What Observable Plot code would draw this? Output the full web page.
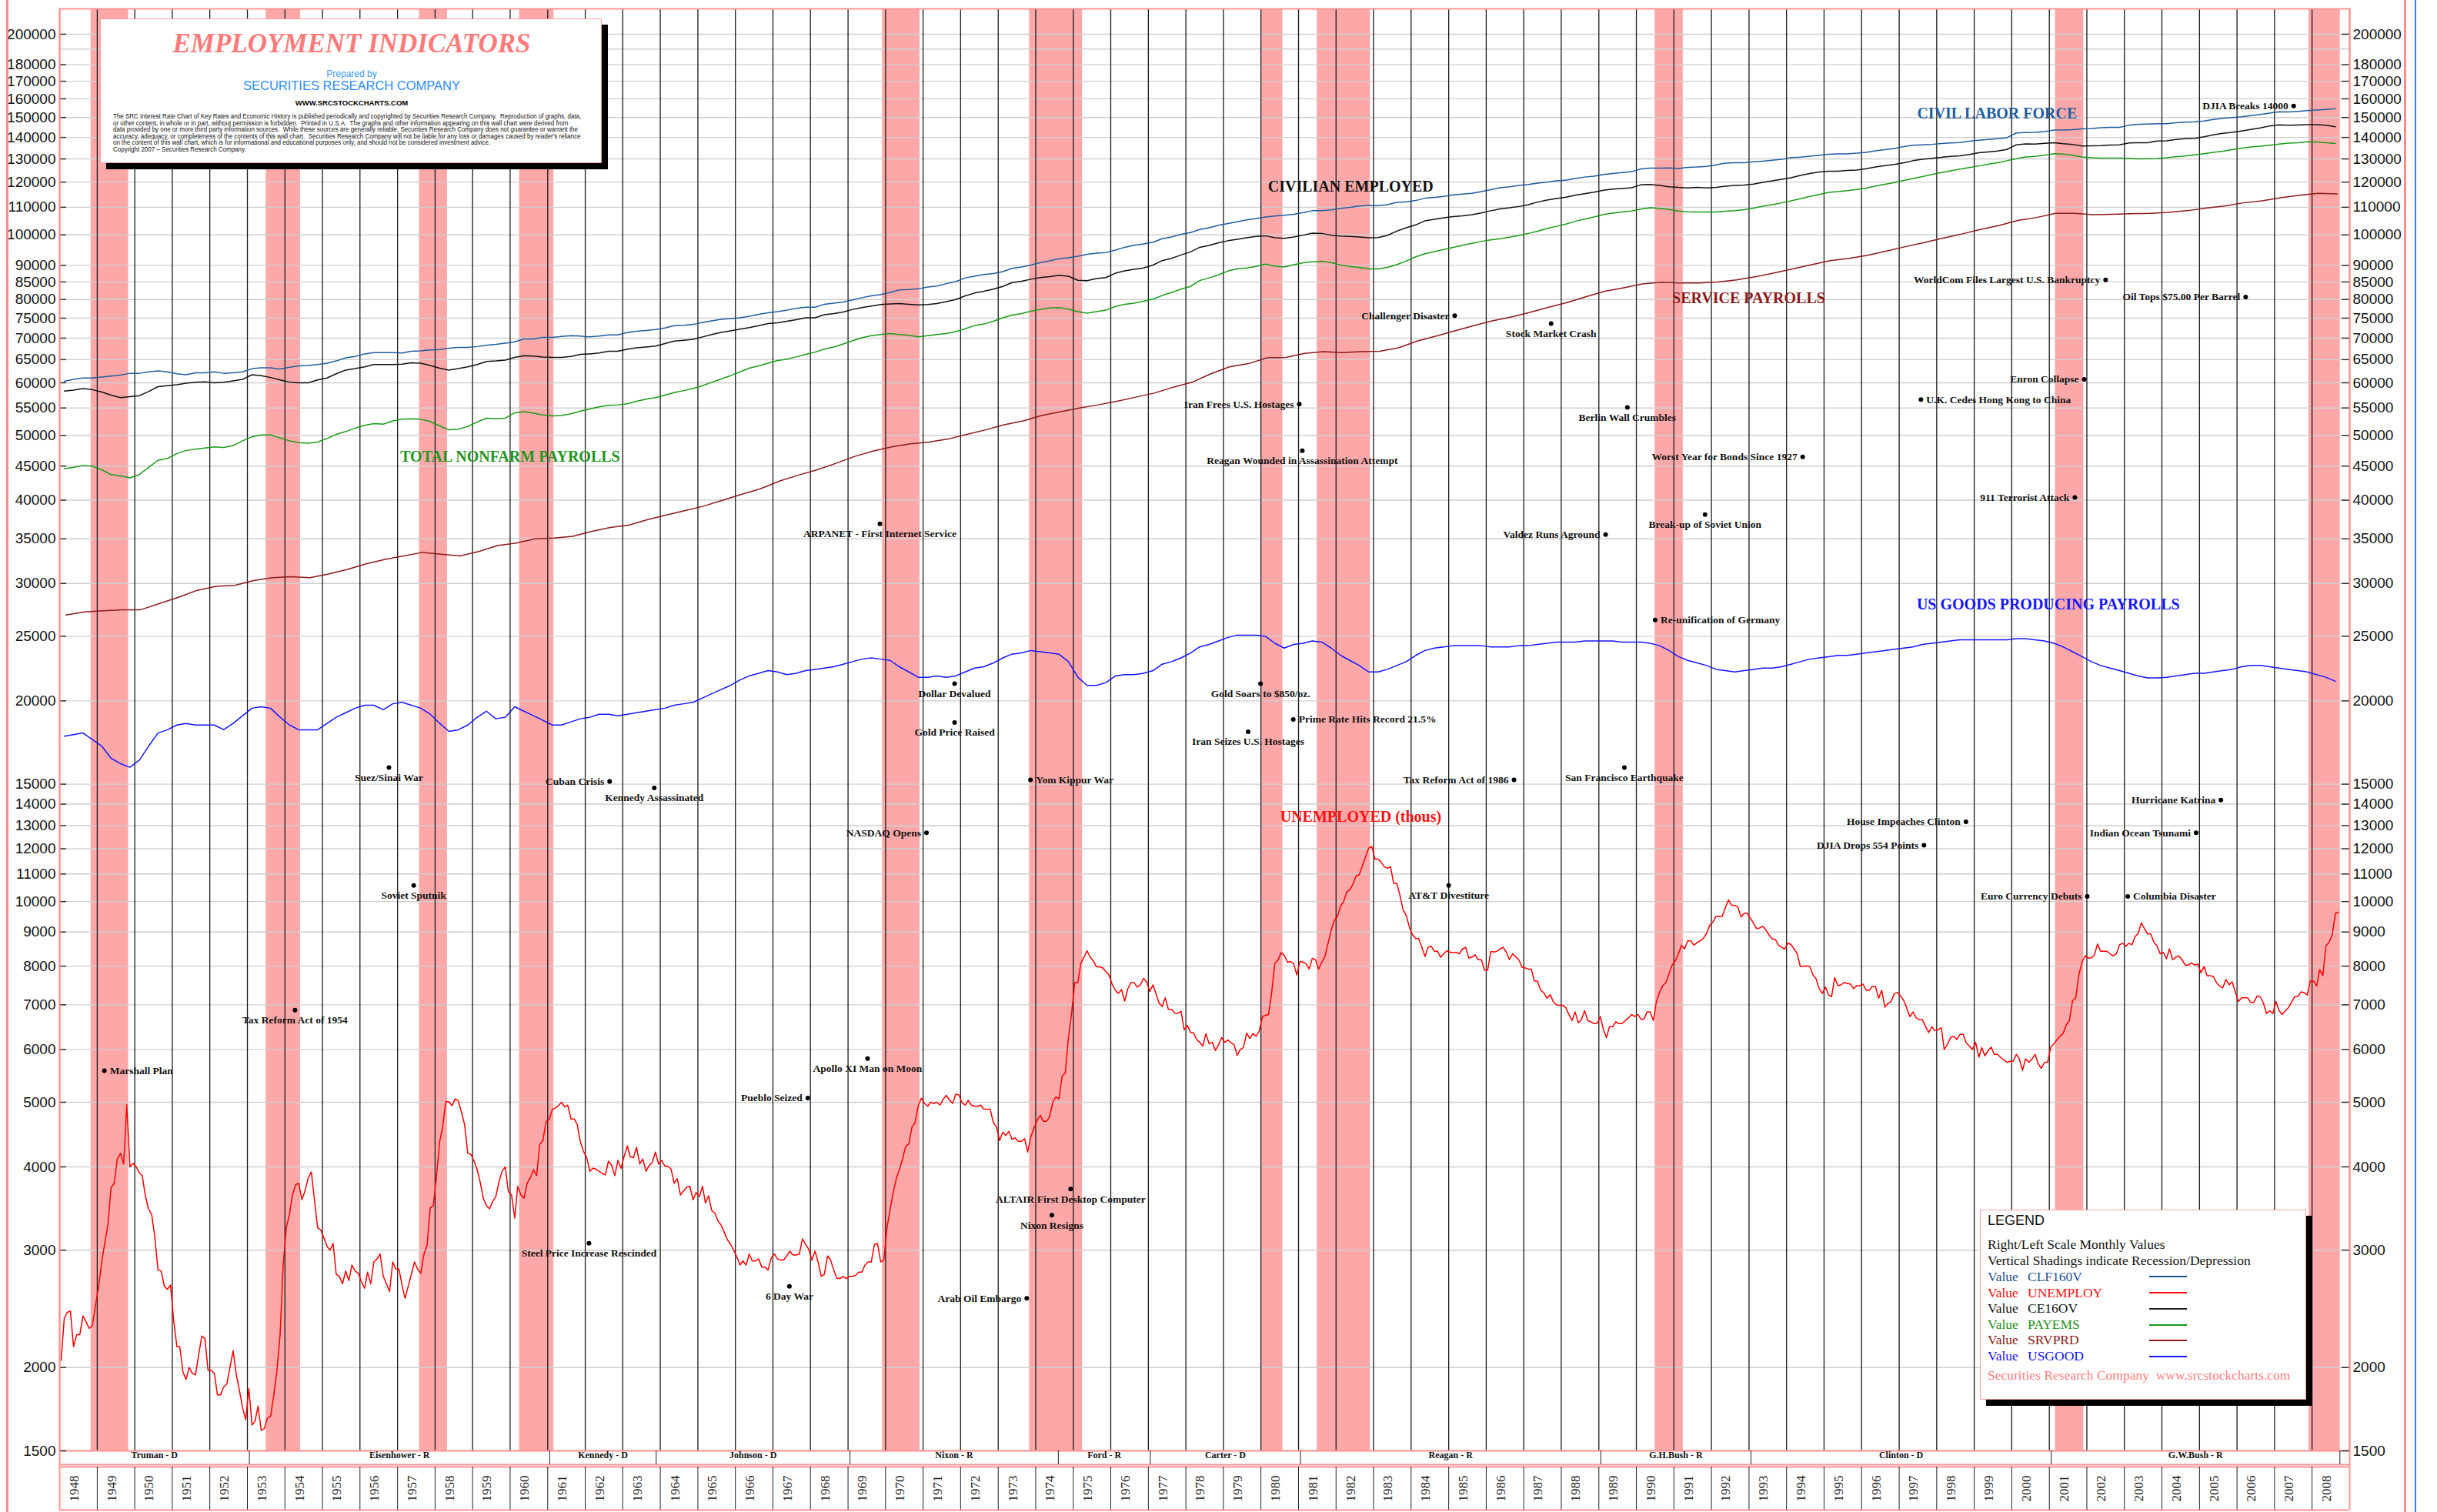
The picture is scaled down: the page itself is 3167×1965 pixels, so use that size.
<!DOCTYPE html>
<html><head><meta charset="utf-8">
<script src="https://cdn.jsdelivr.net/npm/d3@7"></script>
<script src="https://cdn.jsdelivr.net/npm/@observablehq/plot@0.6"></script>
<style>
html,body{margin:0;padding:0;background:#fff;}
#wrap{position:relative;width:3167px;height:1965px;overflow:hidden;background:#fff;}
#chart{position:absolute;left:0;top:0;}
.abs{position:absolute;white-space:nowrap;line-height:1;}
.box{position:absolute;background:#fff;border:1.5px solid #f7a0a0;box-shadow:8px 8px 0 #000;box-sizing:border-box;}
.serif{font-family:"Liberation Serif","Times New Roman",serif;}
.sans{font-family:"Liberation Sans",Arial,Helvetica,sans-serif;}
.edge{position:absolute;top:0;height:1965px;}
.lg{font-size:17.5px;}
</style></head><body>
<div id="wrap">
<div id="chart"></div>
<div class="edge" style="left:8px;width:3px;background:#ff8c8c;"></div>
<div class="edge" style="left:3124px;width:3px;background:#ff8c8c;"></div>
<div class="edge" style="left:3138px;width:2px;background:#2a80ff;"></div>

<div class="box" style="left:130px;top:24px;width:652px;height:188px;">
  <div class="abs serif" style="left:0;width:652px;text-align:center;top:14px;font-style:italic;font-weight:bold;font-size:35px;color:#ff7a7a;">EMPLOYMENT INDICATORS</div>
  <div class="abs sans" style="left:0;width:652px;text-align:center;top:65px;font-size:12px;color:#3d9aff;">Prepared by</div>
  <div class="abs sans" style="left:0;width:652px;text-align:center;top:78px;font-size:16.5px;color:#2a8cff;">SECURITIES RESEARCH COMPANY</div>
  <div class="abs sans" style="left:0;width:652px;text-align:center;top:104px;font-size:9.5px;font-weight:bold;color:#000;">WWW.SRCSTOCKCHARTS.COM</div>
  <div class="abs sans" style="left:16px;top:122px;font-size:8.5px;line-height:8.6px;color:#111;white-space:pre;transform:scaleX(0.94);transform-origin:0 0;">The SRC Interest Rate Chart of Key Rates and Economic History is published periodically and copyrighted by Securities Research Company.  Reproduction of graphs, data,
or other content, in whole or in part, without permission is forbidden.  Printed in U.S.A.  The graphs and other information appearing on this wall chart were derived from
data provided by one or more third party information sources.  While these sources are generally reliable, Securities Research Company does not guarantee or warrant the
accuracy, adequacy, or completeness of the contents of this wall chart.  Securities Research Company will not be liable for any loss or damages caused by reader's reliance
on the content of this wall chart, which is for informational and educational purposes only, and should not be considered investment advice.
Copyright 2007 – Securities Research Company.</div>
</div>

<div class="box" style="left:2573px;top:1572px;width:424px;height:247px;">
  <div class="abs sans" style="left:9px;top:4px;font-size:18px;color:#111;">LEGEND</div>
  <div class="abs serif lg" style="left:9px;top:36px;color:#111;">Right/Left Scale Monthly Values</div>
  <div class="abs serif lg" style="left:9px;top:57px;color:#111;">Vertical Shadings indicate Recession/Depression</div>
  <div class="abs serif lg" style="left:9px;top:78px;color:#1f4f8f;">Value</div><div class="abs serif lg" style="left:61px;top:78px;color:#1f4f8f;">CLF160V</div>
  <div class="abs serif lg" style="left:9px;top:99px;color:#ff1010;">Value</div><div class="abs serif lg" style="left:61px;top:99px;color:#ff1010;">UNEMPLOY</div>
  <div class="abs serif lg" style="left:9px;top:119px;color:#111;">Value</div><div class="abs serif lg" style="left:61px;top:119px;color:#111;">CE16OV</div>
  <div class="abs serif lg" style="left:9px;top:140px;color:#1a8f1a;">Value</div><div class="abs serif lg" style="left:61px;top:140px;color:#1a8f1a;">PAYEMS</div>
  <div class="abs serif lg" style="left:9px;top:160px;color:#8b1a1a;">Value</div><div class="abs serif lg" style="left:61px;top:160px;color:#8b1a1a;">SRVPRD</div>
  <div class="abs serif lg" style="left:9px;top:181px;color:#1515ff;">Value</div><div class="abs serif lg" style="left:61px;top:181px;color:#1515ff;">USGOOD</div>
  <div class="abs" style="left:219px;top:85px;width:49px;height:1.5px;background:#1f4f8f;"></div>
  <div class="abs" style="left:219px;top:106px;width:49px;height:1.5px;background:#ff1010;"></div>
  <div class="abs" style="left:219px;top:127px;width:49px;height:1.5px;background:#222;"></div>
  <div class="abs" style="left:219px;top:148px;width:49px;height:1.5px;background:#1a9a1a;"></div>
  <div class="abs" style="left:219px;top:168px;width:49px;height:1.5px;background:#8b1a1a;"></div>
  <div class="abs" style="left:219px;top:189px;width:49px;height:1.5px;background:#1515ff;"></div>
  <div class="abs serif lg" style="left:9px;top:206px;color:#ff8080;">Securities Research Company&nbsp;&nbsp;www.srcstockcharts.com</div>
</div>
</div>

<script>
// ---------------- DATA ----------------
// Unemployed (thousands), monthly, Jan 1948 - Sep 2008
const unemploy = [
2050,2370,2420,2430,2150,2240,2240,2390,2340,2290,2310,2480,
2650,2890,3070,3280,3720,3780,4110,4190,4040,4960,4000,4050,
4000,3920,3880,3610,3460,3390,3140,2800,2790,2650,2620,2660,
2350,2150,2150,1970,1920,2000,1960,1950,2090,2230,2210,1980,
1980,1960,1820,1820,1870,1890,2000,2120,1950,1850,1740,1670,
1860,1640,1660,1750,1610,1620,1680,1690,1820,1980,2240,2850,
3250,3400,3630,3760,3780,3570,3680,3850,3930,3570,3240,3220,
3130,3040,3000,3070,2760,2740,2670,2790,2700,2850,2790,2770,
2690,2630,2780,2670,2880,2910,2960,2740,2670,2600,2880,2810,
2810,2650,2540,2650,2760,2880,2810,2770,2960,3050,3470,3500,
3880,4370,4590,5010,5010,4940,5060,5020,4830,4630,4190,4180,
4080,3960,3800,3590,3500,3460,3550,3610,3800,3940,4000,3670,
3630,3350,3740,3630,3590,3780,3850,3960,3880,4320,4380,4670,
4710,4880,4900,4940,5000,4920,4950,4720,4720,4630,4360,4220,
4130,3940,3980,3970,3940,3910,3890,4080,4020,3880,4090,3980,
4150,4300,4140,4130,4280,4040,4110,3940,4020,4060,4210,4040,
4090,4010,4010,3970,3780,3840,3630,3680,3730,3740,3570,3660,
3610,3740,3530,3620,3440,3410,3320,3270,3190,3110,3060,3000,
2930,2850,2890,2850,2960,2890,2890,2910,2830,2830,2800,2920,
2960,2910,2900,2900,2940,2990,2950,2950,2960,3120,3060,3010,
2900,2990,2880,2740,2760,2940,2900,2800,2720,2720,2740,2720,
2740,2740,2750,2780,2780,2850,2880,2880,3060,3070,2880,2900,
3240,3460,3650,3840,3960,4110,4290,4330,4590,4660,4940,5070,
4980,4930,5000,4980,5000,4950,5050,5120,5040,4980,5140,5130,
4990,4950,5030,4950,4930,4930,4950,4880,4880,4880,4660,4590,
4380,4510,4460,4520,4400,4420,4370,4370,4410,4210,4440,4570,
4700,4780,4680,4680,4750,4990,5090,5060,5480,5530,6250,6780,
7560,7560,8070,8250,8440,8250,8150,7980,7980,7950,7850,7760,
7510,7360,7280,7380,7090,7400,7560,7560,7440,7500,7670,7580,
7330,7500,7280,7040,6960,7170,6890,6890,6800,6800,6850,6420,
6520,6360,6360,6210,6150,6070,6340,6120,6150,5980,6100,6250,
6150,6200,6140,6100,5880,6000,6040,6350,6230,6340,6280,6390,
6720,6750,6770,7310,8070,8170,8380,8310,8110,8130,8070,7760,
8130,8110,8070,7920,8220,8180,7920,8110,8270,8660,9060,9360,
9500,9860,9990,10330,10420,10620,10930,10970,11330,11670,12030,12090,
11580,11580,11460,11280,11220,11280,10650,10650,10210,9720,9530,9160,
8920,8800,8800,8540,8270,8540,8570,8420,8420,8250,8350,8440,
8390,8390,8390,8350,8490,8540,8230,8250,8320,8180,8180,7890,
7890,8420,8400,8420,8490,8540,8400,8180,8350,8260,8180,7970,
7950,7920,7920,7600,7600,7360,7300,7160,7250,7080,7000,6990,
6990,6930,6770,6630,6830,6580,6650,6860,6630,6600,6560,6560,
6720,6420,6250,6490,6490,6600,6560,6560,6630,6690,6770,6720,
6770,6660,6660,6830,6830,6630,7080,7310,7480,7560,7800,8030,
8150,8350,8600,8490,8730,8730,8600,8680,8730,8810,8960,9210,
9310,9500,9500,9500,9790,10060,9870,9870,9810,9480,9600,9600,
9440,9270,9110,9130,9180,9060,8910,8790,8770,8600,8540,8490,
8660,8620,8490,8350,7990,7990,8010,7990,7760,7660,7400,7280,
7440,7240,7200,7690,7480,7500,7560,7540,7520,7400,7480,7480,
7520,7360,7360,7460,7460,7160,7360,6940,7040,7080,7280,7300,
7220,7100,6930,6720,6830,6690,6650,6650,6490,6360,6490,6400,
6420,6470,6000,6100,6250,6280,6210,6320,6320,6140,6070,6000,
6150,5840,6040,5870,5970,6050,5900,5900,5840,5790,5740,5760,
5760,5900,5810,5580,5810,5740,5800,5900,5710,5620,5740,5740,
6050,6120,6200,6280,6340,6530,6630,7100,7170,7760,8110,8290,
8230,8230,8320,8640,8420,8420,8420,8350,8290,8350,8610,8660,
8570,8660,8610,8860,8960,9290,9110,8940,8940,8690,8580,8350,
8390,8210,8490,8180,8250,8290,8180,8030,8030,8090,8030,8060,
7820,7990,7740,7740,7720,7560,7470,7420,7640,7500,7580,7320,
7080,7170,7170,7170,7060,7060,7220,7200,7040,6790,6860,6790,
7080,6860,6770,6850,6930,7060,7200,7200,7320,7300,7240,7600,
7600,7470,7900,7740,8580,8690,8910,9600,9640];

// Civilian labor force (thousands), quarterly, 1948Q1 - 2008Q3
const clf = [
60300,60700,61000,61000, 61200,61400,61600,62000, 62000,62300,62500,62300, 61900,61700,62100,62100,
62300,62000,62100,62300, 63000,63200,63200,62900, 63300,63600,63700,63900, 64200,64700,65400,65700,
66300,66600,66600,66600, 66500,66900,67000,67200, 67300,67600,67800,67800, 68000,68300,68500,68800,
69100,69800,69800,70200, 70200,70400,70600,70500, 70300,70500,70800,70800, 71400,71700,71900,72100,
72500,73100,73200,73400, 73900,74300,74700,74900, 75100,75500,76000,76400, 76700,77100,77600,77900,
77900,78700,79000,79300, 79900,80500,81000,81400, 82000,82700,82800,83000, 83500,83800,84500,85100,
86200,86700,87200,87500, 88100,89100,89500,90100, 90900,91400,92100,92400, 92900,93500,93900,94100,
94900,95800,96500,96900, 97500,98700,99300,100200, 100800,101900,102500,103400, 104000,104600,105300,105800,
106400,106700,107000,107400, 108000,108700,108700,109000, 109600,110000,110500,110800, 110600,111000,111900,112100,
112600,113500,113800,114200, 114800,115100,115400,116100, 116900,117700,118100,118600, 119000,119600,120000,120500,
120800,121500,122100,122500, 123200,123600,124000,124400, 125600,125900,125900,126000, 125800,126300,126400,126700,
127400,128100,128300,128300, 128700,129000,129400,129800, 130600,130800,131200,131700, 132100,132300,132300,132600,
133000,133700,134200,134800, 135700,136300,136500,136700, 137100,137400,137600,138200, 138700,139000,139400,139900,
142200,142400,142500,142900, 143600,143600,143800,144200, 144400,144800,145000,145000, 146000,146500,146600,146800,
146800,147300,147600,147800, 148200,149000,149600,150000, 150400,151000,151600,152300, 153000,152900,153200,153600,
153900,154200,154600];

// Civilian employed (thousands), quarterly
const ce = [
58300,58500,58800,58600, 58100,57500,57000,57200, 57400,58200,59200,59400, 59600,59900,60100,60200,
60000,60100,60400,60700, 61700,61500,61100,60600, 60100,60000,60000,60600, 61000,61900,62700,63000,
63400,63900,63900,63900, 64000,64300,64200,63700, 63100,62700,63000,63400, 63900,64600,64700,64900,
65500,65900,65800,65600, 65500,65500,65700,66200, 66300,66500,66900,66900, 67400,67700,67900,68100,
68700,69300,69500,69700, 70300,70900,71400,71800, 72200,72600,73100,73600, 73800,74200,74600,75100,
75100,75900,76200,76600, 77300,77800,78200,78600, 78800,78900,78700,78500, 78600,78900,79400,80000,
81000,81800,82300,82900, 83700,84800,85200,85800, 86300,86600,87000,86700, 85500,85400,86000,86300,
87600,88300,88800,89200, 90100,91500,92200,93300, 94300,95800,96400,97300, 98000,98500,99000,99500,
99700,99000,98800,99300, 99900,100600,100500,99900, 99600,99500,99300,99000, 99100,99800,101300,102500,
103500,105000,105500,106100, 106500,106800,107200,107900, 108700,109400,109800,110300, 111000,112000,112800,113400,
113900,114700,115300,115900, 116700,117100,117400,117700, 118900,119000,118600,118100, 117800,117600,117800,117600,
117800,118300,118600,118800, 119200,119900,120500,121200, 121800,122800,123600,124300, 124600,124600,124900,125100,
125700,126400,127000,127500, 128300,129200,129800,130300, 130700,131100,131400,132000, 132800,133200,133600,134300,
136500,136900,136800,137200, 137500,137000,136700,135900, 136000,136100,136400,136500, 137400,137500,137500,138300,
138400,139000,139400,139600, 140300,141300,142000,142500, 143200,143900,144700,145700, 146200,146000,146100,146300,
146300,146000,145300];

// Total nonfarm payrolls (thousands), quarterly
const payems = [
44600,44800,45100,45000, 44400,43700,43500,43200, 43700,44800,45900,46200, 47000,47500,47700,47900,
48100,48000,48300,49100, 49800,50100,50100,49600, 49100,48800,48700,48900, 49500,50200,50700,51300,
51800,52100,52000,52600, 52900,53000,52900,52500, 51700,51000,51100,51600, 52400,53100,53000,53100,
54100,54300,54000,53700, 53500,53600,53900,54400, 54800,55200,55500,55600, 55800,56300,56700,57000,
57500,58000,58400,58800, 59400,60100,60800,61500, 62300,63100,63600,64200, 64800,65100,65600,66200,
66700,67400,67900,68600, 69400,70100,70600,70900, 71100,70900,70700,70300, 70600,70900,71100,71600,
72300,73100,73500,74200, 75100,75800,76200,76800, 77300,77700,77800,77400, 76700,76300,76700,77100,
78100,78700,79000,79500, 80100,81100,82000,82900, 83700,85400,86200,87100, 88300,88900,89200,89700,
90400,89800,89500,90200, 90800,91100,91300,90900, 90100,89700,89400,88900, 88900,89400,90200,91400,
92700,93700,94400,95100, 95800,96500,97100,97800, 98300,98700,99200,99800, 100500,101300,102200,103000,
103800,104800,105600,106400, 107300,107800,108200,108600, 109300,109800,109600,109200, 108600,108300,108200,108200,
108200,108500,108700,109100, 109700,110400,111000,111700, 112500,113300,114200,115000, 115800,116100,116500,117000,
117500,118400,119100,119800, 120700,121500,122300,123200, 124000,124800,125500,126200, 126900,127600,128300,129200,
130100,130900,131100,131700, 132400,132200,131700,130900, 130500,130400,130400,130400, 130300,130000,130100,130200,
130500,131000,131300,131800, 132400,133000,133500,134200, 134900,135500,135800,136300, 136800,137300,137500,137900,
137800,137500,137100];

// Goods-producing payrolls (thousands), quarterly
const usgood = [
17700,17800,17900,17500, 17100,16400,16100,15900, 16300,17100,17900,18100, 18400,18500,18400,18400,
18400,18100,18500,19000, 19500,19600,19500,18900, 18400,18100,18100,18100, 18500,18900,19200,19500,
19700,19700,19400,19800, 19900,19700,19500,19100, 18500,18000,18100,18400, 18900,19300,18800,18900,
19600,19300,19000,18700, 18400,18400,18600,18800, 18900,19100,19100,19000, 19100,19200,19300,19400,
19500,19700,19800,19900, 20200,20500,20800,21100, 21500,21800,22000,22200, 22100,21900,22000,22200,
22300,22400,22500,22700, 22900,23100,23200,23100, 23000,22500,22100,21700, 21700,21800,21700,21800,
22100,22400,22500,22800, 23200,23500,23600,23800, 23700,23600,23500,22900, 21700,21100,21100,21300,
21800,21900,21900,22000, 22200,22700,22900,23200, 23600,24100,24300,24600, 24900,25100,25100,25100,
25000,24400,24000,24300, 24400,24600,24500,24000, 23400,23000,22600,22100, 22100,22300,22600,22900,
23400,23800,24000,24100, 24200,24200,24200,24200, 24100,24100,24100,24200, 24200,24300,24400,24500,
24500,24500,24600,24600, 24600,24600,24500,24500, 24500,24400,24200,23800, 23300,23000,22800,22600,
22300,22200,22100,22200, 22300,22400,22400,22500, 22700,22900,23100,23200, 23300,23400,23400,23500,
23600,23700,23800,23900, 24000,24100,24300,24400, 24500,24600,24700,24700, 24700,24700,24700,24700,
24800,24800,24700,24600, 24400,24100,23700,23300, 22900,22600,22400,22200, 22000,21800,21650,21650,
21700,21800,21900,22000, 22000,22100,22200,22300, 22500,22600,22600,22500, 22400,22300,22200,22100,
21900,21700,21400];

// Service-providing payrolls (thousands), semiannual (Mar, Sep)
const srvprd = [
26900,27200, 27300,27400, 27400,28000, 28600,29300, 29700,29800, 30300,30600, 30700,30600, 31000,31500,
32100,32600, 33000,33400, 33200,33000, 33500,34200, 34500,35000, 35100,35300, 35900,36400, 36700,37400,
38000,38600, 39200,40000, 40800,41600, 42700,43600, 44400,45400, 46500,47400, 48100,48600, 48900,49400,
50200,51000, 51900,52600, 53600,54300, 55000,55600, 56300,57100, 57900,59100, 60100,61900, 63400,64100,
65400,65500, 66400,66800, 66600,66800, 66900,67700, 69300,70500, 71800,73100, 74300,75300, 76500,77900,
79200,80800, 82300,83300, 84400,84900, 84700,84700, 85000,85600, 86500,87700, 88900,90200, 91500,92200,
93200,94600, 96000,97400, 98900,100300, 101900,103300, 105100,106200, 107700,107700, 107200,107400, 107600,107700,
108100,108700, 109700,110500, 111700,112500, 113700,114700, 115400,115200];

// Recessions (NBER), start and end month
const recessionStart = ["1948-11","1953-07","1957-08","1960-04","1969-12","1973-11","1980-01","1981-07","1990-07","2001-03","2007-12"];
const recessionEnd   = ["1949-10","1954-05","1958-04","1961-02","1970-11","1975-03","1980-07","1982-11","1991-03","2001-11","2008-09"];

// Presidents
const presNames = ["Truman - D","Eisenhower - R","Kennedy - D","Johnson - D","Nixon - R","Ford - R","Carter - D","Reagan - R","G.H.Bush - R","Clinton - D","G.W.Bush - R"];
const presStart = ["1948-01-01","1953-01-20","1961-01-20","1963-11-22","1969-01-20","1974-08-09","1977-01-20","1981-01-20","1989-01-20","1993-01-20","2001-01-20"];
const presEnd   = ["1953-01-20","1961-01-20","1963-11-22","1969-01-20","1974-08-09","1977-01-20","1981-01-20","1989-01-20","1993-01-20","2001-01-20","2008-09-28"];

// Y ticks
const yTicks = [1500,2000,3000,4000,5000,6000,7000,8000,9000,10000,11000,12000,13000,14000,15000,20000,25000,30000,35000,40000,45000,50000,55000,60000,65000,70000,75000,80000,85000,90000,100000,110000,120000,130000,140000,150000,160000,170000,180000,200000];
const extraGrid = [190000];

// Events: name, decimal year, vertical position (value), label placement (L left, R right, B below)
const evNames = ["DJIA Breaks 14000","WorldCom Files Largest U.S. Bankruptcy","Oil Tops $75.00 Per Barrel","Challenger Disaster","Stock Market Crash","Enron Collapse","Iran Frees U.S. Hostages","U.K. Cedes Hong Kong to China","Berlin Wall Crumbles","Reagan Wounded in Assassination Attempt","Worst Year for Bonds Since 1927","911 Terrorist Attack","Break-up of Soviet Union","ARPANET - First Internet Service","Valdez Runs Aground","Re-unification of Germany","Dollar Devalued","Gold Soars to $850/oz.","Gold Price Raised","Prime Rate Hits Record 21.5%","Iran Seizes U.S. Hostages","Suez/Sinai War","Cuban Crisis","Yom Kippur War","Tax Reform Act of 1986","San Francisco Earthquake","Kennedy Assassinated","Hurricane Katrina","House Impeaches Clinton","NASDAQ Opens","Indian Ocean Tsunami","DJIA Drops 554 Points","Soviet Sputnik","AT&T Divestiture","Euro Currency Debuts","Columbia Disaster","Tax Reform Act of 1954","Apollo XI Man on Moon","Marshall Plan","Pueblo Seized","ALTAIR First Desktop Computer","Nixon Resigns","Steel Price Increase Rescinded","6 Day War","Arab Oil Embargo"];
const evYears = [2007.51,2002.50,2006.23,1985.16,1987.73,2001.93,1981.02,1997.58,1989.76,1981.10,1994.43,2001.68,1991.83,1969.85,1989.18,1990.50,1971.84,1979.99,1971.84,1980.86,1979.66,1956.77,1962.65,1973.86,1986.74,1989.68,1963.84,2005.57,1998.78,1971.09,2004.91,1997.66,1957.43,1985.00,2002.01,2003.09,1954.27,1969.52,1949.19,1967.93,1974.93,1974.43,1962.10,1967.44,1973.76];
const evValues = [156100,85600,80700,75650,73640,60730,55720,56620,55120,47450,46440,40390,38070,36870,35510,26440,21220,21220,18560,18760,17970,15890,15140,15220,15220,15890,14810,14200,13170,12680,12680,12150,10570,10570,10180,10180,6875,5815,5575,5073,3704,3384,3072,2647,2540];
const evPos = ["L","L","L","L","B","L","L","R","B","B","L","L","B","B","L","R","B","B","B","R","B","B","L","R","L","B","B","L","L","L","L","L","B","B","L","R","B","B","R","L","B","B","B","B","L"];

// Series labels
const serNames = ["CIVIL LABOR FORCE","CIVILIAN EMPLOYED","SERVICE PAYROLLS","TOTAL NONFARM PAYROLLS","US GOODS PRODUCING PAYROLLS","UNEMPLOYED (thous)"];
const serYears = [1999.61,1982.39,1992.99,1960.0,2000.97,1982.66];
const serValues = [151900,118100,80270,46440,27900,13390];
const serColors = ["#1f5c9e","#111111","#8b1a1a","#1e961e","#1515ff","#ff1010"];
const serSizes = [20,20,20,20,20,20];

// ---------------- BUILD ----------------
const W = 3167, H = 1965, mL = 77, mR = 114, mT = 11, mB = 80;
const plotW = W - mL - mR, plotH = H - mT - mB;
const dec = y => { const yr = Math.floor(y); const s = Date.UTC(yr,0,1), e = Date.UTC(yr+1,0,1); return new Date(s + (y-yr)*(e-s)); };
const ym = s => { const [a,b] = s.split("-").map(Number); return new Date(Date.UTC(a,b-1,1)); };
const ymEnd = s => { const [a,b] = s.split("-").map(Number); return new Date(Date.UTC(a,b,1)); };
const monthly = arr => arr.map((v,i) => ({date: new Date(Date.UTC(1948, i, 15)), value: v}));
const quarterly = arr => arr.map((v,i) => ({date: new Date(Date.UTC(1948, 3*i+1, 15)), value: v}));
const semi = arr => arr.map((v,i) => ({date: new Date(Date.UTC(1948, 6*i+2, 1)), value: v}));

const xStart = new Date(Date.UTC(1948,0,1)), xEnd = new Date(Date.UTC(2009,0,1));
const years = d3.range(1948, 2009);
const yearBounds = years.slice(1).map(y => new Date(Date.UTC(y,0,1)));
const recessions = recessionStart.map((s,i) => ({x1: ym(s), x2: ymEnd(recessionEnd[i])}));
const presidents = presNames.map((n,i) => ({name: n, s: new Date(presStart[i]), e: new Date(presEnd[i])}));
const presBounds = presidents.slice(1).map(p => p.s).concat([presidents[presidents.length-1].e]);
const events = evNames.map((n,i) => ({name: n, date: dec(evYears[i]), value: evValues[i], pos: evPos[i]}));
const serLabels = serNames.map((n,i) => ({name: n, date: dec(serYears[i]), value: serValues[i], color: serColors[i], size: serSizes[i]}));

const serif = "Liberation Serif, Times New Roman, serif";
const sans = "Liberation Sans, Arial, Helvetica, sans-serif";
const pink = "#ff9494";
const evFont = {fontFamily: serif, fontWeight: "bold", fontSize: 13.5, fill: "#111"};

const chart = Plot.plot({
  width: W, height: H,
  marginLeft: mL, marginRight: mR, marginTop: mT, marginBottom: mB,
  style: {fontFamily: sans, fontSize: "19px", background: "transparent", overflow: "visible"},
  x: {type: "utc", domain: [xStart, xEnd], axis: null},
  y: {type: "log", domain: [1500, 218300], axis: null, label: null},
  color: {type: "identity"},
  marks: [
    Plot.rect(recessions, {x1: "x1", x2: "x2", fill: "#fda8a8"}),
    Plot.ruleY(yTicks.concat(extraGrid), {stroke: "#cfcfcf", strokeWidth: 1.4}),
    Plot.ruleX(yearBounds, {stroke: "#1a1a1a", strokeWidth: 1.3}),
    Plot.line(semi(srvprd), {x: "date", y: "value", stroke: "#8b1a1a", strokeWidth: 1.5}),
    Plot.line(quarterly(usgood), {x: "date", y: "value", stroke: "#1515ff", strokeWidth: 1.5}),
    Plot.line(quarterly(payems), {x: "date", y: "value", stroke: "#1a9a1a", strokeWidth: 1.5}),
    Plot.line(quarterly(ce), {x: "date", y: "value", stroke: "#111", strokeWidth: 1.5}),
    Plot.line(quarterly(clf), {x: "date", y: "value", stroke: "#1f5c9e", strokeWidth: 1.5}),
    Plot.line(monthly(unemploy), {x: "date", y: "value", stroke: "#ff0000", strokeWidth: 1.5}),
    Plot.frame({stroke: pink, strokeWidth: 2}),
    // y tick labels (left and right) and tick marks
    Plot.text(yTicks, {y: d => d, frameAnchor: "left", dx: -5, textAnchor: "end", text: d => String(d), fontFamily: sans, fontSize: 19, fill: "#111"}),
    Plot.text(yTicks, {y: d => d, frameAnchor: "right", dx: 4, textAnchor: "start", text: d => String(d), fontFamily: sans, fontSize: 19, fill: "#111"}),
    Plot.ruleY(yTicks, {insetRight: plotW - 9, stroke: "#333", strokeWidth: 1.5}),
    Plot.ruleY(yTicks, {insetLeft: plotW - 10, stroke: "#333", strokeWidth: 1.5}),
    // bottom bands
    Plot.ruleY([1500], {dy: 18, stroke: pink, strokeWidth: 2}),
    Plot.ruleY([1500], {dy: 21, stroke: pink, strokeWidth: 2}),
    Plot.ruleY([1500], {dy: 77, stroke: pink, strokeWidth: 2}),
    Plot.ruleX([xStart, xEnd], {insetBottom: -77, stroke: pink, strokeWidth: 2}),
    Plot.ruleX(presBounds, {insetTop: plotH, insetBottom: -18, stroke: "#222", strokeWidth: 1}),
    Plot.ruleX(yearBounds, {insetTop: plotH + 21, insetBottom: -77, stroke: "#222", strokeWidth: 1}),
    Plot.text(presidents, {x: d => new Date((+d.s + +d.e)/2), frameAnchor: "bottom", dy: 9, text: "name", fontFamily: serif, fontWeight: "bold", fontSize: 12, fill: "#111"}),
    Plot.text(years, {x: d => new Date(Date.UTC(d,6,2)), frameAnchor: "bottom", dy: 49, rotate: -90, text: d => String(d), fontFamily: serif, fontSize: 17, fill: "#222"}),
    // events
    Plot.dot(events, {x: "date", y: "value", r: 3, fill: "#000", stroke: "none"}),
    Plot.text(events.filter(d => d.pos === "L"), {x: "date", y: "value", text: "name", textAnchor: "end", dx: -7, ...evFont}),
    Plot.text(events.filter(d => d.pos === "R"), {x: "date", y: "value", text: "name", textAnchor: "start", dx: 7, ...evFont}),
    Plot.text(events.filter(d => d.pos === "B"), {x: "date", y: "value", text: "name", dy: 13, ...evFont}),
    // series labels
    Plot.text(serLabels, {x: "date", y: "value", text: "name", fill: "color", fontSize: d => d.size, fontFamily: serif, fontWeight: "bold"})
  ]
});
document.getElementById("chart").appendChild(chart);
</script>
</body></html>
